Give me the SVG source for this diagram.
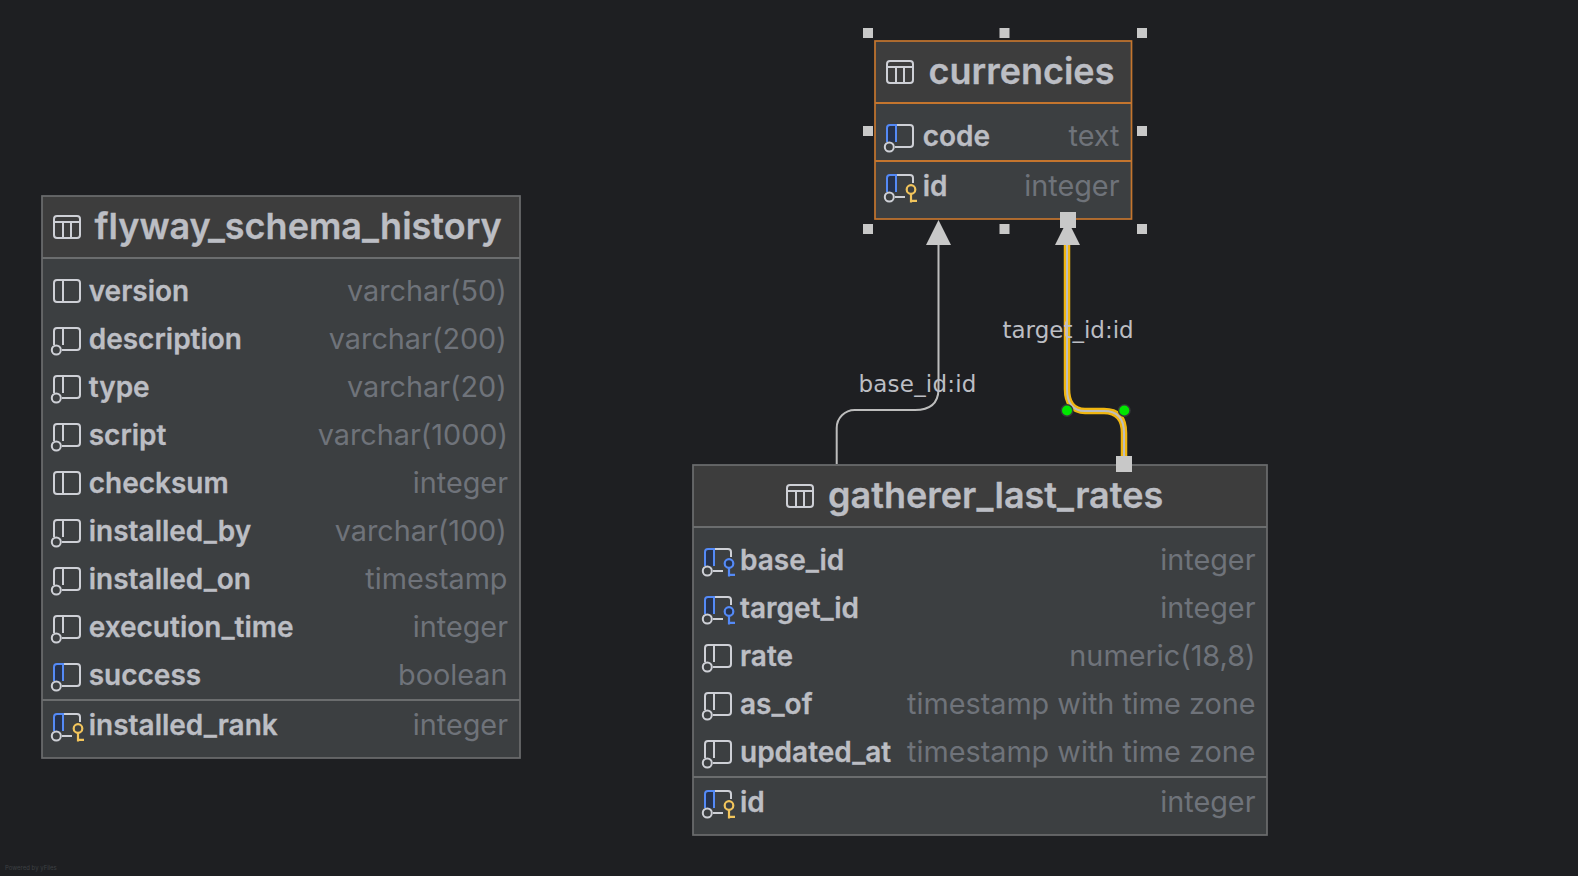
<svg xmlns="http://www.w3.org/2000/svg" width="1578" height="876" viewBox="0 0 1578 876">
<style>
.body{fill:#3c3f41}
.head{fill:#3d3d3d}
.bd{fill:none;stroke:#6b6d6e;stroke-width:1.700}
.sel{fill:none;stroke:#c4752e;stroke-width:1.700}
.dv{stroke:#6b6d6e;stroke-width:2}
.dvs{stroke:#c4752e;stroke-width:2}
.t{font-family:Inter,"Liberation Sans",sans-serif;font-weight:600;font-size:36px;fill:#bcbec4;stroke:#bcbec4;stroke-width:.3px}
.c{font-family:Inter,"Liberation Sans",sans-serif;font-weight:600;font-size:28px;fill:#bcbec4;stroke:#bcbec4;stroke-width:.3px}
.y{font-family:Inter,"Liberation Sans",sans-serif;font-weight:400;font-size:28.800px;fill:#6f737a;text-anchor:end}
.l{font-family:"DejaVu Sans",sans-serif;font-size:23px;fill:#bcbec4}
.ic{fill:none;stroke:#ced0d6;stroke-width:2}
.h{fill:#c8c8c8}
.e{fill:none;stroke:#bdbdbd;stroke-width:2}
.eh{fill:none;stroke:#f0b612;stroke-width:6.500}
</style>
<defs>
<g id="tbl"><rect class="ic" x="1" y="1" width="26" height="22" rx="3"/><path class="ic" d="M1 7H27M10 7V23M18 7V23"/></g>
<g id="col"><rect class="ic" x="1" y="1" width="26" height="22" rx="3"/><path class="ic" d="M10 1V23"/></g>
<g id="nul"><path class="ic" d="M1 18V4a3 3 0 0 1 3-3H24a3 3 0 0 1 3 3V20a3 3 0 0 1-3 3H9M10 1V18"/><circle cx="3.300" cy="23" r="4.500" fill="#3c3f41" stroke="#ced0d6" stroke-width="2"/></g>
<g id="nulb"><path d="M1 18V4a3 3 0 0 1 3-3H10V18Z" fill="#25324d"/><path class="ic" d="M10 1H24a3 3 0 0 1 3 3V20a3 3 0 0 1-3 3H9"/><path fill="none" stroke="#548af7" stroke-width="2" d="M1 18V4a3 3 0 0 1 3-3H10V18"/><circle cx="3.300" cy="23" r="4.500" fill="#3c3f41" stroke="#ced0d6" stroke-width="2"/></g>
<g id="nulbk"><path d="M1 18V4a3 3 0 0 1 3-3H10V18Z" fill="#25324d"/><path class="ic" d="M10 1H24a3 3 0 0 1 3 3V9M9 23H19"/><path fill="none" stroke="#548af7" stroke-width="2" d="M1 18V4a3 3 0 0 1 3-3H10V18"/><circle cx="3.300" cy="23" r="4.500" fill="#3c3f41" stroke="#ced0d6" stroke-width="2"/></g>
<g id="pk"><use href="#nulbk"/><circle cx="25" cy="15.500" r="4.300" fill="#3c3f41" stroke="#f2c55c" stroke-width="2.200"/><path fill="none" stroke="#f2c55c" stroke-width="2.200" d="M25 19.500V28.500M25 26.800H31"/></g>
<g id="fk"><use href="#nulbk"/><circle cx="25" cy="15.500" r="4.300" fill="#25324d" stroke="#548af7" stroke-width="2.200"/><path fill="none" stroke="#548af7" stroke-width="2.200" d="M25 19.500V28.500M25 26.800H31"/></g>
</defs>
<rect width="1578" height="876" fill="#1e1f22"/>
<g id="node-flyway">
<rect class="body" x="42" y="196" width="478" height="562"/><rect class="head" x="42" y="196" width="478" height="61"/>
<rect class="bd" x="42" y="196" width="478" height="562"/><path class="dv" d="M42 258H520M42 700H520"/>
<use href="#tbl" x="53" y="215"/><text class="t" x="94.500" y="238.800">flyway_schema_history</text>
<use href="#col" x="53" y="279"/><text class="c" x="88.700" y="301">version</text><text class="y" x="506.800" y="301">varchar(50)</text>
<use href="#nul" x="53" y="327"/><text class="c" x="88.700" y="349">description</text><text class="y" x="506.800" y="349">varchar(200)</text>
<use href="#nul" x="53" y="375"/><text class="c" x="88.700" y="397">type</text><text class="y" x="506.800" y="397">varchar(20)</text>
<use href="#nul" x="53" y="423"/><text class="c" x="88.700" y="445">script</text><text class="y" x="508" y="445">varchar(1000)</text>
<use href="#col" x="53" y="471"/><text class="c" x="88.700" y="493">checksum</text><text class="y" x="508" y="493">integer</text>
<use href="#nul" x="53" y="519"/><text class="c" x="88.700" y="541">installed_by</text><text class="y" x="506.800" y="541">varchar(100)</text>
<use href="#nul" x="53" y="567"/><text class="c" x="88.700" y="589">installed_on</text><text class="y" x="507.500" y="589">timestamp</text>
<use href="#nul" x="53" y="615"/><text class="c" x="88.700" y="637">execution_time</text><text class="y" x="508" y="637">integer</text>
<use href="#nulb" x="53" y="663"/><text class="c" x="88.700" y="685">success</text><text class="y" x="507.500" y="685">boolean</text>
<use href="#pk" x="53" y="713"/><text class="c" x="88.700" y="735">installed_rank</text><text class="y" x="508" y="735">integer</text>
</g>
<g id="node-currencies">
<rect class="body" x="875" y="41" width="256.500" height="178"/><rect class="head" x="875" y="41" width="256.500" height="62"/>
<rect class="sel" x="875" y="41" width="256.500" height="178"/><path class="dvs" d="M875 103H1131.500M875 161H1131.500"/>
<use href="#tbl" x="886" y="60"/><text class="t" x="928.500" y="83.500">currencies</text>
<use href="#nulb" x="886" y="124"/><text class="c" x="922.700" y="146">code</text><text class="y" x="1119.500" y="146">text</text>
<use href="#pk" x="886" y="174"/><text class="c" x="922.700" y="196">id</text><text class="y" x="1119.500" y="196">integer</text>
<g id="handles" class="h"><rect x="863" y="28" width="10" height="10"/><rect x="999.500" y="28" width="10" height="10"/><rect x="1137" y="28" width="10" height="10"/><rect x="863" y="126" width="10" height="10"/><rect x="1137" y="126" width="10" height="10"/><rect x="863" y="224" width="10" height="10"/><rect x="999.500" y="224" width="10" height="10"/><rect x="1137" y="224" width="10" height="10"/></g>
</g>
<g id="node-gatherer">
<rect class="body" x="693" y="465" width="574" height="370"/><rect class="head" x="693" y="465" width="574" height="62"/>
<rect class="bd" x="693" y="465" width="574" height="370"/><path class="dv" d="M693 527H1267M693 777H1267"/>
<use href="#tbl" x="786" y="484"/><text class="t" x="828" y="507.800">gatherer_last_rates</text>
<use href="#fk" x="704" y="548"/><text class="c" x="740" y="570">base_id</text><text class="y" x="1255.500" y="570">integer</text>
<use href="#fk" x="704" y="596"/><text class="c" x="740" y="618">target_id</text><text class="y" x="1255.500" y="618">integer</text>
<use href="#nul" x="704" y="644"/><text class="c" x="740" y="666">rate</text><text class="y" x="1255.500" y="666">numeric(18,8)</text>
<use href="#nul" x="704" y="692"/><text class="c" x="740" y="714">as_of</text><text class="y" x="1255.500" y="714">timestamp with time zone</text>
<use href="#nul" x="704" y="740"/><text class="c" x="740" y="762">updated_at</text><text class="y" x="1255.500" y="762">timestamp with time zone</text>
<use href="#pk" x="704" y="790"/><text class="c" x="740" y="812">id</text><text class="y" x="1255.500" y="812">integer</text>
</g>
<g id="connectors">
<g id="edge-base"><path class="e" d="M836.700 464V428a18 18 0 0 1 18-18H915c15 0 23-6 23.500-20V245"/><path class="h" d="M938.500 220L951 245H926Z"/><text class="l" x="858.500" y="391.500" letter-spacing="0.200">base_id:id</text></g>
<g id="edge-target"><path class="eh" d="M1124 464V433c0-14-6-22-20-22H1085c-12 0-18-8-18-22V240"/><path class="e" d="M1124 464V433c0-14-6-22-20-22H1085c-12 0-18-8-18-22V240"/><path class="h" d="M1067.500 220L1080 245H1055Z"/><text class="l" x="1002.500" y="337.500">target_id:id</text>
<rect class="h" x="1060" y="212" width="16" height="16"/><rect class="h" x="1116" y="456" width="16" height="16"/>
<circle cx="1067" cy="410.500" r="6.500" fill="#35373a"/><circle cx="1067" cy="410.500" r="5" fill="#00e600"/><circle cx="1124.300" cy="410.500" r="6.500" fill="#35373a"/><circle cx="1124.300" cy="410.500" r="5" fill="#00e600"/></g>
</g>
<text x="5" y="870" font-family="Inter,sans-serif" font-size="6" fill="#3d3f43">Powered by yFiles</text>
</svg>
